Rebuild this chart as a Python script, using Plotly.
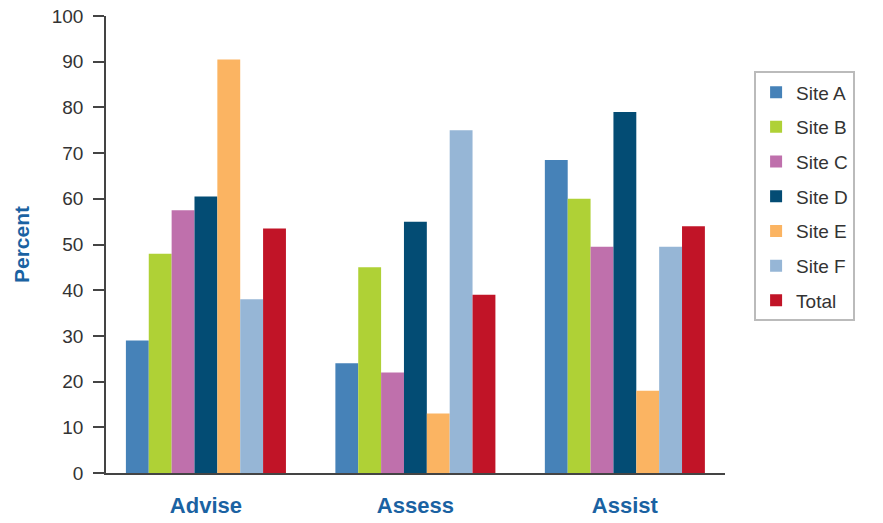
import plotly.graph_objects as go

categories = ["Advise", "Assess", "Assist"]
series_names = ["Site A", "Site B", "Site C", "Site D", "Site E", "Site F", "Total"]
site_a = [29, 24, 68.5]
site_b = [48, 45, 60]
site_c = [57.5, 22, 49.5]
site_d = [60.5, 55, 79]
site_e = [90.5, 13, 18]
site_f = [38, 75, 49.5]
total = [53.5, 39, 54]
series_values = [site_a, site_b, site_c, site_d, site_e, site_f, total]
colors = ["#4682b8", "#afd136", "#bf70ac", "#034c74", "#fbb462", "#96b6d6", "#c11427"]
y_ticks = list(range(0, 101, 10))

fig = go.Figure()
for name, vals, col in zip(series_names, series_values, colors):
    fig.add_trace(go.Bar(x=categories, y=vals, name=name, marker_color=col,
                         marker_line_width=0, legendgroup=name))

blue = "#1a62a2"
fig.update_layout(
    width=883, height=523,
    margin=dict(l=106, r=158, t=16, b=50, autoexpand=False),
    paper_bgcolor="white", plot_bgcolor="white",
    barmode="group", bargap=0.236, bargroupgap=0,
    font=dict(family="Liberation Sans, Arial, sans-serif", color="#333", size=18),
    showlegend=True,
    legend=dict(x=1.047, y=0.879, xanchor="left", yanchor="top",
                bordercolor="#bbbbbb", borderwidth=2, bgcolor="white",
                font=dict(size=19, color="#333"), tracegroupgap=7,
                itemwidth=30),
    xaxis=dict(range=[-0.477, 2.478], showline=True, linecolor="#444", linewidth=1.5,
               ticks="", tickfont=dict(size=22, color=blue, family="Liberation Sans, Arial, sans-serif"),
               ticklabelstandoff=12, automargin=False,
               showgrid=False, zeroline=False),
    yaxis=dict(range=[0, 100], tickvals=y_ticks, showline=True, linecolor="#444", linewidth=1.5,
               ticks="outside", ticklen=11, tickwidth=1.5, tickcolor="#444",
               ticklabelstandoff=6, automargin=False,
               tickfont=dict(size=19, color="#333"), showgrid=False, zeroline=False,
               title=dict(text="<b>Percent</b>", font=dict(size=21, color=blue), standoff=16)),
)
fig.update_xaxes(ticktext=[f"<b>{c}</b>" for c in categories], tickvals=categories)
fig.write_html("out.html")
